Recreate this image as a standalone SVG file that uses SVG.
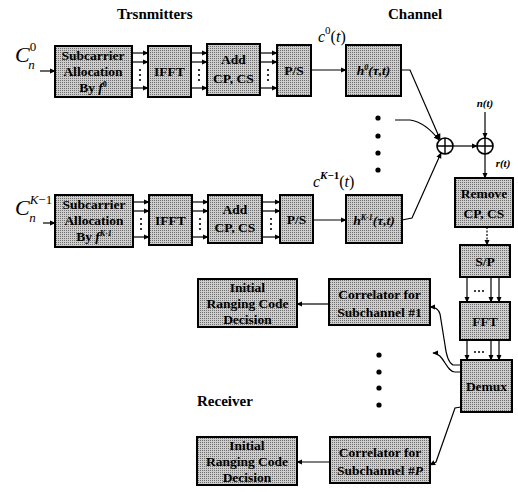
<svg xmlns="http://www.w3.org/2000/svg" width="518" height="492" viewBox="0 0 518 492">
<defs>
<pattern id="stip" patternUnits="userSpaceOnUse" width="2" height="2">
<rect width="2" height="2" fill="#cdcdcd"/>
<rect width="1" height="1" fill="#6e6e6e"/>
</pattern>
<marker id="ar" viewBox="0 0 8 8" refX="7" refY="4" markerWidth="6" markerHeight="6" orient="auto" markerUnits="userSpaceOnUse">
<path d="M0,0.5 L8,4 L0,7.5 Z" fill="#000"/>
</marker>
</defs>
<style>
.box{fill:url(#stip);stroke:#000;stroke-width:2}
.t{font-family:"Liberation Serif",serif;font-weight:bold;font-size:13.5px;text-anchor:middle;fill:#000}
.ttl{font-family:"Liberation Serif",serif;font-weight:bold;font-size:15px;fill:#000}
.m{font-family:"Liberation Serif",serif;font-style:italic;fill:#000}
.ln{fill:none;stroke:#000;stroke-width:1.2}
.dot{fill:#000}
</style>
<rect width="518" height="492" fill="#fff"/>

<text class="ttl" x="117" y="19">Trsnmitters</text>
<text class="ttl" x="388" y="19">Channel</text>
<text class="ttl" x="197" y="406">Receiver</text>

<!-- input labels -->
<text class="m" x="15" y="62" font-size="22">C<tspan font-size="13" dy="-11" font-style="normal">0</tspan><tspan font-size="13" dx="-8" dy="18">n</tspan></text>
<text class="m" x="15" y="215" font-size="22">C<tspan font-size="13" dy="-11">K</tspan><tspan font-size="13" font-style="normal">−1</tspan><tspan font-size="13" dx="-23" dy="18">n</tspan></text>
<text class="m" x="318" y="42" font-size="16">c<tspan font-size="11" dy="-8" font-style="normal">0</tspan><tspan dy="8" font-style="normal">(</tspan>t<tspan font-style="normal">)</tspan></text>
<text class="m" x="313" y="187" font-size="16">c<tspan font-size="11" dy="-8" font-weight="bold">K</tspan><tspan font-size="11" font-style="normal" font-weight="bold">−1</tspan><tspan dy="8" font-style="normal">(</tspan>t<tspan font-style="normal">)</tspan></text>
<text class="m" x="485" y="107" font-size="11" font-weight="bold" text-anchor="middle">n(t)</text>
<text class="m" x="503" y="167" font-size="11" font-weight="bold" text-anchor="middle">r(t)</text>

<!-- top transmitter -->
<g id="alloc0"><rect class="box" x="55" y="46" width="77" height="51"/>
<text class="t" x="93" y="60">Subcarrier</text><text class="t" x="93" y="76">Allocation</text><text class="t" x="93" y="92">By <tspan font-style="italic">f</tspan><tspan font-size="8" dy="-5">0</tspan></text></g>
<g id="ifft0"><rect class="box" x="148" y="46" width="43" height="51"/><text class="t" x="169.5" y="76">IFFT</text></g>
<g id="addcp0"><rect class="box" x="207" y="44" width="53" height="51"/><text class="t" x="233.5" y="64">Add</text><text class="t" x="233.5" y="83">CP, CS</text></g>
<g id="ps0"><rect class="box" x="277" y="45" width="34" height="51"/><text class="t" x="294" y="75">P/S</text></g>
<g id="h0"><rect class="box" x="346" y="45" width="55" height="51"/><text class="t" x="373.5" y="75" font-style="italic">h<tspan font-size="8" dy="-5">0</tspan><tspan dy="5">(τ,t)</tspan></text></g>

<!-- bottom transmitter -->
<g id="allocK"><rect class="box" x="55" y="195" width="78" height="52"/>
<text class="t" x="94" y="209">Subcarrier</text><text class="t" x="94" y="225">Allocation</text><text class="t" x="94" y="241">By <tspan font-style="italic">f</tspan><tspan font-size="8" dy="-5" font-style="italic">K-1</tspan></text></g>
<g id="ifftK"><rect class="box" x="149" y="195" width="43" height="50"/><text class="t" x="170.5" y="225">IFFT</text></g>
<g id="addcpK"><rect class="box" x="208" y="195" width="54" height="48"/><text class="t" x="235" y="214">Add</text><text class="t" x="235" y="232">CP, CS</text></g>
<g id="psK"><rect class="box" x="280" y="195" width="33" height="48"/><text class="t" x="296.5" y="224">P/S</text></g>
<g id="hK"><rect class="box" x="346" y="195" width="56" height="48"/><text class="t" x="374" y="225" font-style="italic">h<tspan font-size="8" dy="-5">K-1</tspan><tspan dy="5">(τ,t)</tspan></text></g>

<!-- receiver -->
<g id="remove"><rect class="box" x="455" y="178" width="58" height="49"/><text class="t" x="484" y="198">Remove</text><text class="t" x="484" y="218">CP, CS</text></g>
<g id="sp"><rect class="box" x="460" y="245" width="50" height="32"/><text class="t" x="485" y="266">S/P</text></g>
<g id="fft"><rect class="box" x="460" y="302" width="50" height="38"/><text class="t" x="485" y="326">FFT</text></g>
<g id="demux"><rect class="box" x="461" y="360" width="51" height="52"/><text class="t" x="486.5" y="391">Demux</text></g>
<g id="corr1"><rect class="box" x="329" y="279" width="101" height="46"/><text class="t" x="379.5" y="299">Correlator for</text><text class="t" x="379.5" y="317">Subchannel #1</text></g>
<g id="dec1"><rect class="box" x="198" y="279" width="99" height="48"/><text class="t" x="247.5" y="292">Initial</text><text class="t" x="247.5" y="308">Ranging Code</text><text class="t" x="247.5" y="324">Decision</text></g>
<g id="corrP"><rect class="box" x="330" y="437" width="100" height="46"/><text class="t" x="380" y="457">Correlator for</text><text class="t" x="380" y="475">Subchannel #<tspan font-style="italic">P</tspan></text></g>
<g id="decP"><rect class="box" x="197" y="437" width="100" height="48"/><text class="t" x="247" y="450">Initial</text><text class="t" x="247" y="466">Ranging Code</text><text class="t" x="247" y="482">Decision</text></g>

<!-- summing junctions -->
<g id="sum1"><circle cx="445" cy="146" r="8" fill="#fff" stroke="#000" stroke-width="1.6"/><path d="M437,146 H453 M445,138 V154" stroke="#000" stroke-width="1.4"/></g>
<g id="sum2"><circle cx="485" cy="146" r="8" fill="#fff" stroke="#000" stroke-width="1.6"/><path d="M477,146 H493 M485,138 V154" stroke="#000" stroke-width="1.4"/></g>

<g id="connectors">
<path class="ln" d="M40,71 H55" marker-end="url(#ar)"/>
<path class="ln" d="M43,223 H55" marker-end="url(#ar)"/>
<path class="ln" d="M132,53 H148" marker-end="url(#ar)"/><path class="ln" d="M132,62 H148" marker-end="url(#ar)"/><path class="ln" d="M132,88 H148" marker-end="url(#ar)"/>
<path class="ln" d="M191,53 H207" marker-end="url(#ar)"/><path class="ln" d="M191,62 H207" marker-end="url(#ar)"/><path class="ln" d="M191,88 H207" marker-end="url(#ar)"/>
<path class="ln" d="M260,53 H277" marker-end="url(#ar)"/><path class="ln" d="M260,62 H277" marker-end="url(#ar)"/><path class="ln" d="M260,88 H277" marker-end="url(#ar)"/>
<path class="ln" d="M311,70 H346" marker-end="url(#ar)"/>
<path class="ln" d="M133,202 H149" marker-end="url(#ar)"/><path class="ln" d="M133,211 H149" marker-end="url(#ar)"/><path class="ln" d="M133,237 H149" marker-end="url(#ar)"/>
<path class="ln" d="M192,202 H208" marker-end="url(#ar)"/><path class="ln" d="M192,211 H208" marker-end="url(#ar)"/><path class="ln" d="M192,237 H208" marker-end="url(#ar)"/>
<path class="ln" d="M262,202 H280" marker-end="url(#ar)"/><path class="ln" d="M262,211 H280" marker-end="url(#ar)"/><path class="ln" d="M262,237 H280" marker-end="url(#ar)"/>
<path class="ln" d="M313,220 H346" marker-end="url(#ar)"/>
<path class="ln" d="M401,70 H410 L440,139" marker-end="url(#ar)"/>
<path class="ln" d="M395,120 H410 Q425,122 439,140" marker-end="url(#ar)"/>
<path class="ln" d="M402,220 L412,218 L441,153" marker-end="url(#ar)"/>
<path class="ln" d="M453,146 H477" marker-end="url(#ar)"/>
<path class="ln" d="M485,112 V138" marker-end="url(#ar)"/>
<path class="ln" d="M485,154 V178" marker-end="url(#ar)"/>
<path class="ln" d="M487,227 V245" stroke-dasharray="2,1.5" marker-end="url(#ar)"/>
<path class="ln" d="M467,277 V302" marker-end="url(#ar)"/><path class="ln" d="M491,277 V302" marker-end="url(#ar)"/><path class="ln" d="M499,277 V302" marker-end="url(#ar)"/>
<path class="ln" d="M467,340 V360" marker-end="url(#ar)"/><path class="ln" d="M491,340 V360" marker-end="url(#ar)"/><path class="ln" d="M499,340 V360" marker-end="url(#ar)"/>
<path class="ln" d="M461,365 H453 Q447,362 445,345 L440,314 Q438,307 430,307" marker-end="url(#ar)"/>
<path class="ln" d="M461,372 H455 C446,372 444,353 433,353" marker-end="url(#ar)"/>
<path class="ln" d="M461,407 L455,408 L436,462 L430,465" marker-end="url(#ar)"/>
<path class="ln" d="M329,304 H297" marker-end="url(#ar)"/>
<path class="ln" d="M330,462 H297" marker-end="url(#ar)"/>
</g>

<g class="dot">
<circle cx="140" cy="70" r="1.1"/><circle cx="140" cy="75" r="1.1"/><circle cx="140" cy="80" r="1.1"/>
<circle cx="199" cy="70" r="1.1"/><circle cx="199" cy="75" r="1.1"/><circle cx="199" cy="80" r="1.1"/>
<circle cx="268" cy="70" r="1.1"/><circle cx="268" cy="75" r="1.1"/><circle cx="268" cy="80" r="1.1"/>
<circle cx="141" cy="219" r="1.1"/><circle cx="141" cy="224" r="1.1"/><circle cx="141" cy="229" r="1.1"/>
<circle cx="200" cy="219" r="1.1"/><circle cx="200" cy="224" r="1.1"/><circle cx="200" cy="229" r="1.1"/>
<circle cx="271" cy="219" r="1.1"/><circle cx="271" cy="224" r="1.1"/><circle cx="271" cy="229" r="1.1"/>
<circle cx="475" cy="291" r="1"/><circle cx="479" cy="291" r="1"/><circle cx="483" cy="291" r="1"/>
<circle cx="475" cy="352" r="1"/><circle cx="479" cy="352" r="1"/><circle cx="483" cy="352" r="1"/>
<circle cx="378" cy="118" r="2.6"/><circle cx="378" cy="136" r="2.6"/><circle cx="378" cy="153" r="2.6"/><circle cx="378" cy="170" r="2.6"/>
<circle cx="379" cy="355" r="2.6"/><circle cx="379" cy="372" r="2.6"/><circle cx="379" cy="388" r="2.6"/><circle cx="379" cy="405" r="2.6"/>
</g>
</svg>
